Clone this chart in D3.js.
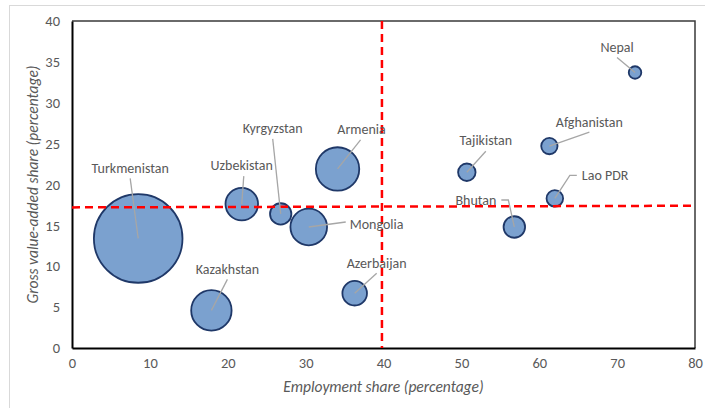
<!DOCTYPE html>
<html>
<head>
<meta charset="utf-8">
<script src="https://cdnjs.cloudflare.com/ajax/libs/d3/7.8.5/d3.min.js"></script>
<style>
  body { margin: 0; background: #fff; }
  svg text { font-family: Carlito, Calibri, Lato, "Open Sans", sans-serif; }
</style>
</head>
<body>
<div id="chart"></div>
<script>
// data
var countries = ["Turkmenistan", "Kazakhstan", "Uzbekistan", "Kyrgyzstan", "Mongolia", "Armenia",
                 "Azerbaijan", "Tajikistan", "Afghanistan", "Nepal", "Lao PDR", "Bhutan"];
var employment = [8.5, 17.9, 21.8, 26.8, 30.4, 34.1, 36.3, 50.7, 61.3, 72.3, 62.0, 56.8];
var gva =        [13.4, 4.6, 17.6, 16.4, 14.8, 21.9, 6.7, 21.5, 24.7, 33.7, 18.3, 14.8];
var bubbleSize = [100, 20.8, 13.5, 5.8, 17.1, 24.0, 7.7, 3.9, 3.4, 2.0, 3.5, 5.9];

var xTicks = [0, 10, 20, 30, 40, 50, 60, 70, 80];
var yTicks = [0, 5, 10, 15, 20, 25, 30, 35, 40];

var avgEmployment = 39.8;
var avgGva = [[0, 17.2], [80, 17.4]];

// label placement (pixel offsets from bubble centre), layout only
var labelPos = {
  "Turkmenistan": { tx: -8, ty: -70, lx: -8, ly: -60, anchor: "middle" },
  "Kazakhstan":   { tx: 16, ty: -41, lx: 16, ly: -31, anchor: "middle" },
  "Uzbekistan":   { tx: 0, ty: -39, lx: 2, ly: -28, anchor: "middle" },
  "Kyrgyzstan":   { tx: -8, ty: -86, lx: -8, ly: -75, anchor: "middle" },
  "Mongolia":     { tx: 41, ty: -3, lx: 37, ly: -5, anchor: "start" },
  "Armenia":      { tx: 24, ty: -40, lx: 23, ly: -29, anchor: "middle" },
  "Azerbaijan":   { tx: 22, ty: -30, lx: 22, ly: -20, anchor: "middle" },
  "Tajikistan":   { tx: 19, ty: -32, lx: 19, ly: -21, anchor: "middle" },
  "Afghanistan":  { tx: 40, ty: -24, lx: 40, ly: -14, anchor: "middle" },
  "Nepal":        { tx: -18, ty: -25, lx: -18, ly: -15, anchor: "middle" },
  "Lao PDR":      { tx: 27, ty: -23, lx: 22, ly: -23, ex: 15, anchor: "start" },
  "Bhutan":       { tx: -18, ty: -27, lx: -13, ly: -27, ex: -6, anchor: "end" }
};

var width = 705, height = 408;
var plot = { left: 72, top: 21, right: 695, bottom: 348 };

var svg = d3.select("#chart").append("svg")
  .attr("width", width)
  .attr("height", height);

// outer chart frame
svg.append("rect")
  .attr("x", 9.5).attr("y", 5.5)
  .attr("width", 720).attr("height", 420)
  .attr("fill", "#fff")
  .attr("stroke", "#d9d9d9");

var x = d3.scaleLinear().domain([0, 80]).range([plot.left, plot.right]);
var y = d3.scaleLinear().domain([0, 40]).range([plot.bottom, plot.top]);
var r = d3.scaleSqrt().domain([0, 100]).range([0, 44.3]);

// top / right border of plot area
svg.append("path")
  .attr("d", "M" + plot.left + "," + plot.top + "H" + plot.right + "V" + plot.bottom)
  .attr("fill", "none")
  .attr("stroke", "#3a3a3a")
  .attr("stroke-width", 1.5);

var xAxis = d3.axisBottom(x).tickValues(xTicks).tickSize(0).tickPadding(10);
var yAxis = d3.axisLeft(y).tickValues(yTicks).tickSize(0).tickPadding(12);

var gX = svg.append("g")
  .attr("transform", "translate(0," + plot.bottom + ")")
  .call(xAxis);
var gY = svg.append("g")
  .attr("transform", "translate(" + plot.left + ",0)")
  .call(yAxis);

[gX, gY].forEach(function(g) {
  g.select(".domain").attr("stroke", "#000").attr("stroke-width", 2);
  g.selectAll("text")
    .attr("fill", "#595959")
    .attr("font-size", 14.5)
    .style("font-family", "Carlito, Calibri, Lato, sans-serif");
});

// axis titles
svg.append("text")
  .attr("x", (plot.left + plot.right) / 2)
  .attr("y", 392)
  .attr("text-anchor", "middle")
  .attr("font-size", 15.5)
  .attr("font-style", "italic")
  .attr("fill", "#595959")
  .text("Employment share (percentage)");

svg.append("text")
  .attr("transform", "translate(38," + (plot.top + plot.bottom) / 2 + ") rotate(-90)")
  .attr("text-anchor", "middle")
  .attr("font-size", 15.5)
  .attr("font-style", "italic")
  .attr("fill", "#595959")
  .text("Gross value-added share (percentage)");

var data = countries.map(function(c, i) {
  return { name: c, emp: employment[i], gva: gva[i], size: bubbleSize[i] };
});

// bubbles
svg.append("g")
  .selectAll("circle")
  .data(data)
  .enter().append("circle")
  .attr("cx", function(d) { return x(d.emp); })
  .attr("cy", function(d) { return y(d.gva); })
  .attr("r", function(d) { return r(d.size); })
  .attr("fill", "#7ba1cf")
  .attr("stroke", "#1f3868")
  .attr("stroke-width", 1.8);

// average lines
svg.append("line")
  .attr("x1", x(avgGva[0][0])).attr("y1", y(avgGva[0][1]))
  .attr("x2", x(avgGva[1][0])).attr("y2", y(avgGva[1][1]))
  .attr("stroke", "#ff0000")
  .attr("stroke-width", 2.5)
  .attr("stroke-dasharray", "8,5");

svg.append("line")
  .attr("x1", x(avgEmployment)).attr("y1", plot.top)
  .attr("x2", x(avgEmployment)).attr("y2", plot.bottom)
  .attr("stroke", "#ff0000")
  .attr("stroke-width", 2.5)
  .attr("stroke-dasharray", "8,5");

// leader lines + labels
var lab = svg.append("g").selectAll("g")
  .data(data)
  .enter().append("g")
  .attr("transform", function(d) { return "translate(" + x(d.emp) + "," + y(d.gva) + ")"; });

lab.append("path")
  .attr("d", function(d) {
    var p = labelPos[d.name];
    if (p.ex !== undefined) return "M" + p.lx + "," + p.ly + "H" + p.ex + "L0,0";
    return "M" + p.lx + "," + p.ly + "L0,0";
  })
  .attr("fill", "none")
  .attr("stroke", "#a6a6a6")
  .attr("stroke-width", 1.3);

lab.append("text")
  .attr("x", function(d) { return labelPos[d.name].tx; })
  .attr("y", function(d) { return labelPos[d.name].ty; })
  .attr("dy", "0.35em")
  .attr("text-anchor", function(d) { return labelPos[d.name].anchor; })
  .attr("font-size", 14)
  .attr("fill", "#595959")
  .text(function(d) { return d.name; });
</script>
</body>
</html>
